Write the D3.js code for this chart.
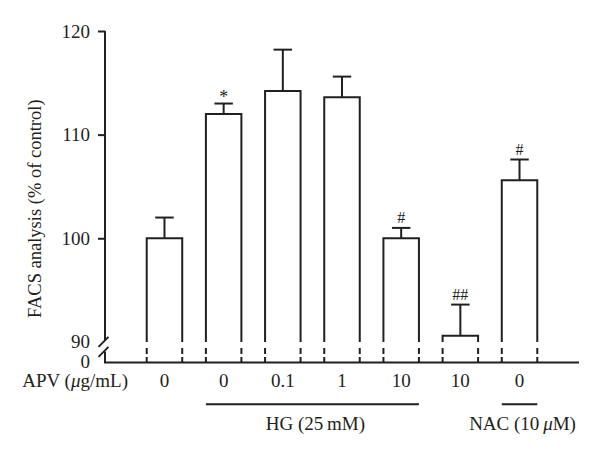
<!DOCTYPE html>
<html><head><meta charset="utf-8">
<script src="https://cdn.jsdelivr.net/npm/d3@7"></script>
<style>
body{margin:0;background:#fff;}
text{font-family:"Liberation Serif","Times New Roman",serif;fill:#231f20;}
</style></head>
<body><svg id="c" width="600" height="455"></svg>
<script>
const apvLabels = ["0","0","0.1","1","10","10","0"];
const means = [100, 112.0, 114.2, 113.6, 100.0, 90.6, 105.6];
const errTop = [102.0, 113.0, 118.2, 115.6, 101.0, 93.6, 107.6];
const marks = ["", "*", "", "", "#", "##", "#"];
const yTicks = [100, 110, 120];

const svg = d3.select("#c");
const ink = "#231f20";
const sw = 2;
const fs = "19px";

const x = d3.scaleBand().domain(d3.range(means.length)).range([105, 579]).paddingInner(0.4).paddingOuter(0.705);
const y = d3.scaleLinear().domain([90, 120]).range([341.9, 31]);
const base = y(90) + 20.5;
const axX = x.range()[0];

// y axis (upper part)
const ax = svg.append("g").attr("transform", `translate(${axX},0)`)
  .call(d3.axisLeft(y).tickValues(yTicks).tickSize(7).tickPadding(8).tickFormat(d3.format("d")));
ax.select(".domain").remove();
ax.selectAll(".tick line").attr("stroke", ink).attr("stroke-width", sw);
ax.selectAll(".tick text").style("font-size", fs).attr("font-family", null).attr("fill", ink);
svg.append("line").attr("x1", axX).attr("x2", axX).attr("y1", y(120)).attr("y2", y(90) - 1.5)
  .attr("stroke", ink).attr("stroke-width", sw);
svg.append("line").attr("x1", axX).attr("x2", axX).attr("y1", y(90) + 9.5).attr("y2", base)
  .attr("stroke", ink).attr("stroke-width", sw);
// break slashes
[0, 10].forEach(off => {
  svg.append("line").attr("x1", axX - 6.5).attr("y1", y(90) + 5 + off)
    .attr("x2", axX + 3.5).attr("y2", y(90) - 5 + off)
    .attr("stroke", ink).attr("stroke-width", sw);
});
// 90 and 0 labels
svg.append("text").attr("x", axX - 15).attr("y", y(90)).attr("dy", "0.32em")
  .attr("text-anchor", "end").style("font-size", fs).text("90");
svg.append("text").attr("x", axX - 15).attr("y", base).attr("dy", "0.29em")
  .attr("text-anchor", "end").style("font-size", fs).text("0");
// baseline
svg.append("line").attr("x1", axX - 1).attr("x2", x.range()[1]).attr("y1", base).attr("y2", base)
  .attr("stroke", ink).attr("stroke-width", sw);

// bars
const bw = x.bandwidth();
const g = svg.append("g");
means.forEach((m, i) => {
  const x0 = x(i), x1 = x(i) + bw, cx = x(i) + bw / 2;
  g.append("path")
    .attr("d", `M${x0},${y(90)}V${y(m)}H${x1}V${y(90)}`)
    .attr("fill", "#fff").attr("stroke", ink).attr("stroke-width", sw);
  [x0, x1].forEach(xx => {
    g.append("line").attr("x1", xx).attr("x2", xx).attr("y1", y(90)).attr("y2", base)
      .attr("stroke", ink).attr("stroke-width", sw).attr("stroke-dasharray", "0 6 6 3 6");
  });
  g.append("line").attr("x1", cx).attr("x2", cx).attr("y1", y(m)).attr("y2", y(errTop[i]))
    .attr("stroke", ink).attr("stroke-width", sw);
  g.append("line").attr("x1", cx - bw * 0.26).attr("x2", cx + bw * 0.26)
    .attr("y1", y(errTop[i])).attr("y2", y(errTop[i]))
    .attr("stroke", ink).attr("stroke-width", sw);
  if (marks[i]) {
    const isStar = marks[i] === "*";
    g.append("text").attr("x", cx).attr("y", y(errTop[i]) - (isStar ? 1 : 4.5))
      .attr("text-anchor", "middle").style("font-size", isStar ? "18px" : "16px").text(marks[i]);
  }
  svg.append("text").attr("x", cx).attr("y", 387).attr("text-anchor", "middle")
    .style("font-size", fs).text(apvLabels[i]);
});

// APV label
const apv = svg.append("text").attr("x", 128).attr("y", 387).attr("text-anchor", "end").style("font-size", fs);
apv.append("tspan").text("APV (");
apv.append("tspan").attr("font-style", "italic").text("μ");
apv.append("tspan").text("g/mL)");

// group underlines
const groups = [
  {from: 1, to: 4, parts: [["HG (25\u2009mM)", false]], shift: 3},
  {from: 6, to: 6, parts: [["NAC (10\u2009", false], ["μ", true], ["M)", false]], shift: 3}
];
groups.forEach(gr => {
  const xa = x(gr.from), xb = x(gr.to) + bw;
  svg.append("line").attr("x1", xa).attr("x2", xb).attr("y1", 404.3).attr("y2", 404.3)
    .attr("stroke", ink).attr("stroke-width", sw);
  const t = svg.append("text").attr("x", (xa + xb) / 2 + gr.shift).attr("y", 430)
    .attr("text-anchor", "middle").style("font-size", fs);
  gr.parts.forEach(p => t.append("tspan").attr("font-style", p[1] ? "italic" : null).text(p[0]));
});

// y axis title
svg.append("text").attr("transform", `translate(41,${(y(120) + base) / 2 + 12}) rotate(-90)`)
  .attr("text-anchor", "middle").style("font-size", "18.5px").text("FACS analysis (% of control)");
</script></body></html>
